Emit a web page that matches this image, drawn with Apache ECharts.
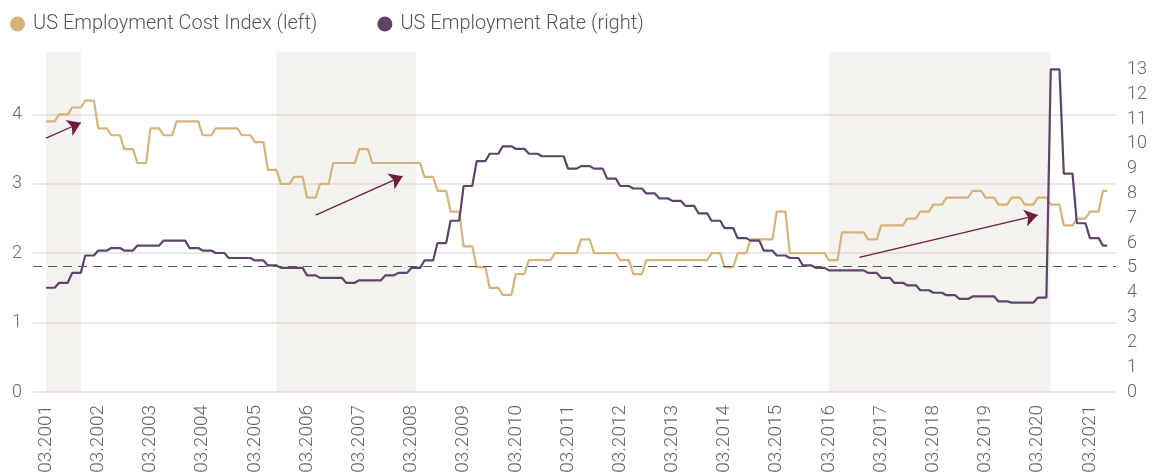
<!DOCTYPE html>
<html>
<head>
<meta charset="utf-8">
<script src="https://cdn.jsdelivr.net/npm/echarts@6/dist/echarts.min.js"></script>
<style>
html,body{margin:0;padding:0;background:#ffffff;}
#chart{width:1154px;height:475px;}
</style>
</head>
<body>
<div id="chart"></div>
<script>
// ---- data (quarterly values, shown at quarter-end month and held for 3 months) ----
const seriesNames = ['US Employment Cost Index (left)', 'US Employment Rate (right)'];

// US Employment Cost Index, YoY % (left axis), Q1 2001 .. Q2 2021
const eciQuarterly = [
  3.9, 4.0, 4.1, 4.2, 3.8, 3.7, 3.5, 3.3, 3.8, 3.7, 3.9, 3.9, 3.7, 3.8, 3.8, 3.7,
  3.6, 3.2, 3.0, 3.1, 2.8, 3.0, 3.3, 3.3, 3.5, 3.3, 3.3, 3.3, 3.3, 3.1, 2.9, 2.6,
  2.1, 1.8, 1.5, 1.4, 1.7, 1.9, 1.9, 2.0, 2.0, 2.2, 2.0, 2.0, 1.9, 1.7, 1.9, 1.9,
  1.9, 1.9, 1.9, 2.0, 1.8, 2.0, 2.2, 2.2, 2.6, 2.0, 2.0, 2.0, 1.9, 2.3, 2.3, 2.2,
  2.4, 2.4, 2.5, 2.6, 2.7, 2.8, 2.8, 2.9, 2.8, 2.7, 2.8, 2.7, 2.8, 2.7, 2.4, 2.5,
  2.6, 2.9
];

// US (un)employment rate, % (right axis), Q1 2001 .. Q2 2021
const rateQuarterly = [
  4.2, 4.4, 4.8, 5.5, 5.7, 5.8, 5.7, 5.9, 5.9, 6.1, 6.1, 5.8, 5.7, 5.6, 5.4, 5.4,
  5.3, 5.1, 5.0, 5.0, 4.7, 4.6, 4.6, 4.4, 4.5, 4.5, 4.7, 4.8, 5.0, 5.3, 6.0, 6.9,
  8.3, 9.3, 9.6, 9.9, 9.8, 9.6, 9.5, 9.5, 9.0, 9.1, 9.0, 8.6, 8.3, 8.2, 8.0, 7.8,
  7.7, 7.5, 7.2, 6.9, 6.6, 6.2, 6.1, 5.7, 5.5, 5.4, 5.1, 5.0, 4.9, 4.9, 4.9, 4.8,
  4.6, 4.4, 4.3, 4.1, 4.0, 3.9, 3.75, 3.85, 3.85, 3.65, 3.6, 3.6, 3.8, 13.0, 8.8, 6.8,
  6.2, 5.9
];

const firstDataMonth = '03.2001';
const lastDataMonth = '07.2021';
const firstAxisMonth = '12.2000';
const lastAxisMonth = '09.2021';

const tickLabels = [
  '03.2001','03.2002','03.2003','03.2004','03.2005','03.2006','03.2007',
  '03.2008','03.2009','03.2010','03.2011','03.2012','03.2013','03.2014',
  '03.2015','03.2016','03.2017','03.2018','03.2019','03.2020','03.2021'
];

const shadedPeriods = [
  ['03.2001', '11.2001'],
  ['08.2005', '04.2008'],
  ['03.2016', '06.2020']
];

// annotation arrows, [month, left-axis value] -> [month, left-axis value]
const arrows = [
  [['03.2001', 3.66], ['11.2001', 3.88]],
  [['05.2006', 2.55], ['01.2008', 3.11]],
  [['10.2016', 1.94], ['03.2020', 2.55]]
];

const referenceRate = 5.05; // dashed line, right axis

// ---- build monthly category table ----
function fmt(y, m) { return String(m).padStart(2, '0') + '.' + y; }
const categories = [];
(function () {
  let y = parseInt(firstAxisMonth.slice(3), 10);
  let m = parseInt(firstAxisMonth.slice(0, 2), 10);
  for (let guard = 0; guard < 1000; guard++) {
    const l = fmt(y, m);
    categories.push(l);
    if (l === lastAxisMonth) break;
    m++; if (m > 12) { m = 1; y++; }
  }
})();
const i0 = categories.indexOf(firstDataMonth);
const i1 = categories.indexOf(lastDataMonth);
function monthly(q) {
  return categories.map((c, i) => (i >= i0 && i <= i1) ? q[Math.floor((i - i0) / 3)] : null);
}
const eciMonthly = monthly(eciQuarterly);
const rateMonthly = monthly(rateQuarterly);

// ---- chart ----
const FONT = 'Roboto';
const chart = echarts.init(document.getElementById('chart'), null, { renderer: 'canvas' });
const gridColor = '#e4e1dd';

chart.setOption({
  animation: false,
  backgroundColor: '#ffffff',
  textStyle: { fontFamily: FONT },
  legend: {
    left: 5, top: 9,
    icon: 'circle',
    itemWidth: 15, itemHeight: 15,
    itemGap: 60,
    data: seriesNames,
    textStyle: { fontSize: 20, color: '#555555', fontFamily: FONT, fontWeight: 300, padding: [0, 0, 0, 3] }
  },
  grid: { left: 33, right: 38, top: 52, bottom: 83, containLabel: false, outerBoundsMode: 'none' },
  xAxis: {
    type: 'category',
    data: categories,
    boundaryGap: false,
    axisLine: { show: false },
    axisTick: { show: false },
    splitLine: { show: false },
    axisLabel: {
      rotate: 90,
      margin: 13,
      fontSize: 19,
      color: '#666666',
      fontFamily: FONT,
      fontWeight: 300,
      interval: function (index, value) { return tickLabels.indexOf(value) >= 0; }
    }
  },
  yAxis: [
    {
      type: 'value', position: 'left',
      min: 0, max: 4.9, interval: 1,
      axisLine: { show: false }, axisTick: { show: false },
      axisLabel: { fontSize: 18, color: '#666666', margin: 11, fontFamily: FONT, fontWeight: 300, showMaxLabel: false },
      splitLine: { show: true, lineStyle: { width: 1.5, color: [gridColor, gridColor, gridColor, gridColor, gridColor, 'rgba(0,0,0,0)'] } }
    },
    {
      type: 'value', position: 'right',
      min: 0, max: 13.7, interval: 1,
      axisLine: { show: false }, axisTick: { show: false },
      axisLabel: { fontSize: 18, color: '#666666', margin: 11, fontFamily: FONT, fontWeight: 300, showMaxLabel: false, padding: [0, 0, 5, 0] },
      splitLine: { show: false }
    }
  ],
  series: [
    {
      name: seriesNames[0],
      type: 'line',
      yAxisIndex: 0,
      data: eciMonthly,
      showSymbol: false,
      color: '#d5b47b',
      lineStyle: { width: 2.2, color: '#d5b47b' },
      z: 3,
      markArea: {
        silent: true,
        itemStyle: { color: 'rgba(200,188,176,0.2)' },
        data: shadedPeriods.map(p => [{ xAxis: p[0] }, { xAxis: p[1] }])
      },
      markLine: {
        silent: true,
        symbol: ['none', 'arrow'],
        symbolSize: 13,
        label: { show: false },
        itemStyle: { color: '#6e1d3f' },
        lineStyle: { color: '#6e1d3f', width: 1.3, type: 'solid' },
        emphasis: { disabled: true },
        data: arrows.map(a => [{ coord: a[0] }, { coord: a[1] }])
      }
    },
    {
      name: seriesNames[1],
      type: 'line',
      yAxisIndex: 1,
      data: rateMonthly,
      showSymbol: false,
      color: '#5e4468',
      lineStyle: { width: 2.2, color: '#5e4468' },
      z: 4,
      markLine: {
        silent: true,
        symbol: ['none', 'none'],
        label: { show: false },
        lineStyle: { color: '#555555', width: 1, type: [9, 6] },
        emphasis: { disabled: true },
        data: [{ yAxis: referenceRate }]
      }
    }
  ]
});
</script>
</body>
</html>
